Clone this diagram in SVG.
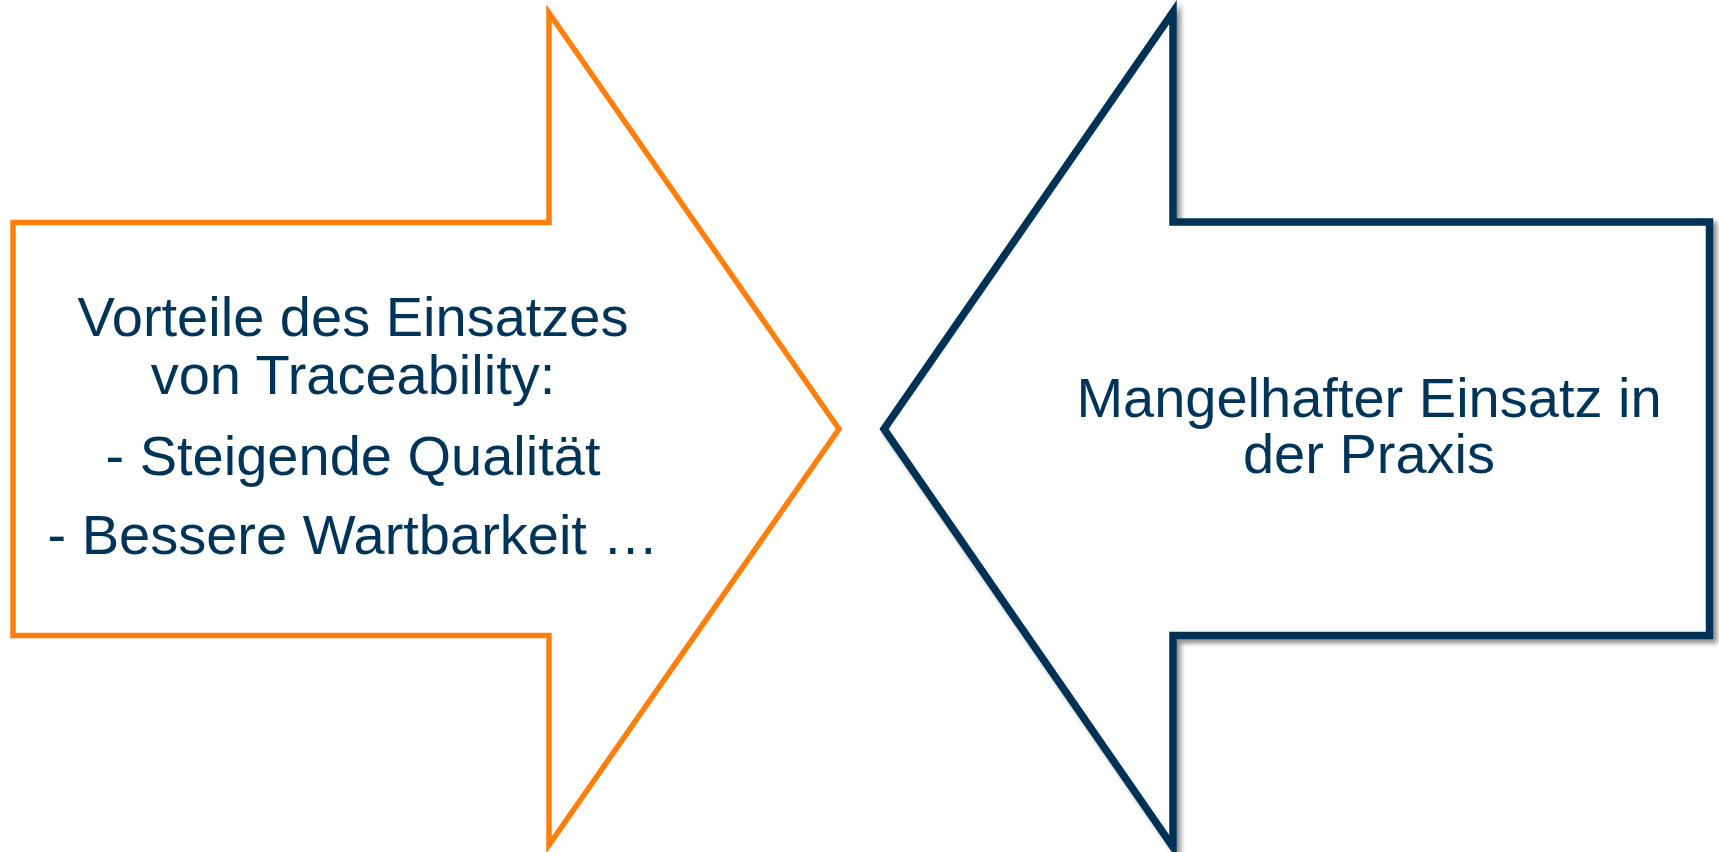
<svg xmlns="http://www.w3.org/2000/svg" width="1719" height="852" viewBox="0 0 1719 852">
<defs>
<style>
.t{font-family:"Liberation Sans",Arial,sans-serif;font-size:56px;fill:#003459;text-anchor:middle}
</style>
<filter id="sh" x="-5%" y="-5%" width="115%" height="115%">
<feGaussianBlur in="SourceAlpha" stdDeviation="2.5"/>
<feOffset dx="4" dy="4" result="b"/>
<feComponentTransfer><feFuncA type="linear" slope="0.45"/></feComponentTransfer>
<feMerge><feMergeNode/><feMergeNode in="SourceGraphic"/></feMerge>
</filter>
</defs>
<rect width="1719" height="852" fill="#ffffff"/>
<g id="left-arrow">
<polygon points="13,222.5 549,222.5 549,13 839,429 549,845 549,635.5 13,635.5" fill="#ffffff" stroke="#FF7F0A" stroke-width="5.5" stroke-linejoin="miter" stroke-miterlimit="10"/>
<text class="t" x="353" y="336">Vorteile des Einsatzes</text>
<text class="t" x="353" y="394">von Traceability:</text>
<text class="t" x="353" y="475">- Steigende Qualität</text>
<text class="t" x="353" y="554">- Bessere Wartbarkeit …</text>
</g>
<g id="right-arrow">
<polygon points="1709.5,222 1173,222 1173,12 884,429 1173,847 1173,635.5 1709.5,635.5" fill="#ffffff" stroke="#003057" stroke-width="7.5" stroke-linejoin="miter" stroke-miterlimit="10" filter="url(#sh)"/>
<text class="t" x="1369" y="417">Mangelhafter Einsatz in</text>
<text class="t" x="1369" y="473">der Praxis</text>
</g>
<g id="connectors"></g>
</svg>
